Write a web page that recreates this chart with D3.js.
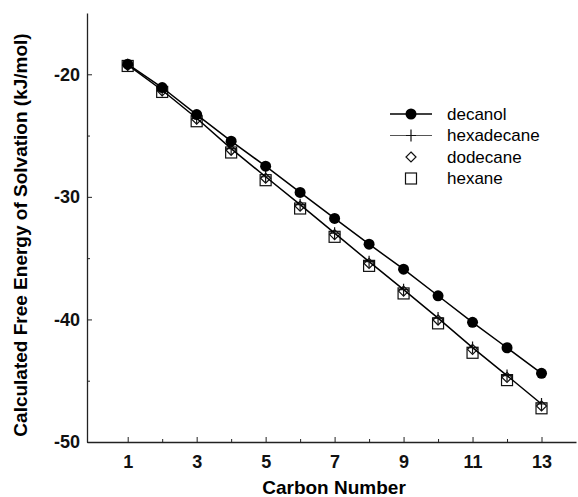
<!DOCTYPE html>
<html>
<head>
<meta charset="utf-8">
<script src="https://cdn.jsdelivr.net/npm/d3@7"></script>
<style>
    body { margin: 0; background: #fff; }
    svg { display: block; font-family: "Liberation Sans", Arial, sans-serif; }
    .axis path, .axis line { stroke: #222; }
    .axis text { font-size: 18px; font-weight: bold; fill: #111; }
</style>
</head>
<body>
<div id="content"></div>
<script>
(() => {
    var width = 578,
        height = 497;

    // data
    var carbons = [1, 2, 3, 4, 5, 6, 7, 8, 9, 10, 11, 12, 13];
    var decanol = [-19.18, -21.08, -23.29, -25.46, -27.50, -29.64, -31.76, -33.86, -35.90, -38.07, -40.24, -42.31, -44.40];
    var hexadecane = [-19.23, -21.30, -23.59, -26.07, -28.36, -30.64, -32.96, -35.29, -37.57, -39.89, -42.30, -44.58, -46.90];
    var dodecane = [-19.27, -21.35, -23.67, -26.20, -28.48, -30.76, -33.08, -35.43, -37.69, -40.05, -42.44, -44.73, -47.06];
    var hexane = [-19.32, -21.44, -23.83, -26.38, -28.64, -30.95, -33.26, -35.63, -37.88, -40.32, -42.72, -44.95, -47.25];

    var xTicks = [1, 3, 5, 7, 9, 11, 13];
    var xMinor = [2, 4, 6, 8, 10, 12];
    var yTicks = [-50, -40, -30, -20];
    var yMinor = [-45, -35, -25];

    var series = [
        { name: 'decanol', values: decanol, symbol: 'circle', line: true },
        { name: 'hexadecane', values: hexadecane, symbol: 'cross', line: true },
        { name: 'dodecane', values: dodecane, symbol: 'diamond', line: false },
        { name: 'hexane', values: hexane, symbol: 'square', line: false }
    ];

    var x = d3.scaleLinear().domain([-0.18, 14]).range([87, 576]);
    var y = d3.scaleLinear().domain([-50, -15]).range([442, 13]);

    var svg = d3.select('#content').append('svg')
        .attr('width', width)
        .attr('height', height);

    // plain hyphen for negatives, like the original
    var fmt = d => String(d);

    // axes, ticks pointing inward
    svg.append('g')
        .attr('class', 'x axis')
        .attr('transform', 'translate(0,' + y(-50) + ')')
        .call(d3.axisBottom(x).tickValues(xTicks).tickFormat(fmt).tickSizeInner(-5).tickSizeOuter(0).tickPadding(13))
        .call(g => g.select('.domain').attr('stroke-width', 1.6));

    svg.append('g')
        .attr('class', 'x axis minor')
        .attr('transform', 'translate(0,' + y(-50) + ')')
        .call(d3.axisBottom(x).tickValues(xMinor).tickSizeInner(-3).tickSizeOuter(0).tickFormat(''))
        .call(g => g.select('.domain').remove())
        .selectAll('line').attr('stroke', '#777');

    svg.append('g')
        .attr('class', 'y axis')
        .attr('transform', 'translate(' + x.range()[0] + ',0)')
        .call(d3.axisLeft(y).tickValues(yTicks).tickFormat(fmt).tickSizeInner(-5).tickSizeOuter(0).tickPadding(7))
        .call(g => g.select('.domain').attr('stroke-width', 1.3));

    svg.append('g')
        .attr('class', 'y axis minor')
        .attr('transform', 'translate(' + x.range()[0] + ',0)')
        .call(d3.axisLeft(y).tickValues(yMinor).tickSizeInner(-3).tickSizeOuter(0).tickFormat(''))
        .call(g => g.select('.domain').remove())
        .selectAll('line').attr('stroke', '#777');

    // axis titles
    svg.append('text')
        .attr('x', 334)
        .attr('y', 494)
        .attr('text-anchor', 'middle')
        .style('font-size', '19px')
        .style('font-weight', 'bold')
        .text('Carbon Number');

    svg.append('text')
        .attr('transform', 'translate(27,235) rotate(-90)')
        .attr('text-anchor', 'middle')
        .style('font-size', '19px')
        .style('font-weight', 'bold')
        .text('Calculated Free Energy of Solvation (kJ/mol)');

    var line = d3.line()
        .x((d, i) => x(carbons[i]))
        .y(d => y(d));

    function drawSymbol(g, type, cx, cy) {
        if (type === 'circle') {
            g.append('circle').attr('cx', cx).attr('cy', cy).attr('r', 5.5)
                .attr('fill', '#000');
        } else if (type === 'square') {
            g.append('rect').attr('x', cx - 5.5).attr('y', cy - 5.5)
                .attr('width', 11).attr('height', 11)
                .attr('fill', 'none').attr('stroke', '#111').attr('stroke-width', 1.2);
        } else if (type === 'diamond') {
            g.append('path')
                .attr('d', 'M' + cx + ',' + (cy - 5) + 'L' + (cx + 5) + ',' + cy + 'L' + cx + ',' + (cy + 5) + 'L' + (cx - 5) + ',' + cy + 'Z')
                .attr('fill', 'none').attr('stroke', '#111').attr('stroke-width', 1.2);
        } else if (type === 'cross') {
            g.append('path')
                .attr('d', 'M' + (cx - 5) + ',' + cy + 'H' + (cx + 5) + 'M' + cx + ',' + (cy - 6) + 'V' + (cy + 6))
                .attr('fill', 'none').attr('stroke', '#111').attr('stroke-width', 1.2);
        }
    }

    // draw hexane first so the filled markers sit on top
    series.slice().reverse().forEach(function (s) {
        var g = svg.append('g').attr('class', 'series ' + s.name);
        if (s.line) {
            g.append('path')
                .datum(s.values)
                .attr('d', line)
                .attr('fill', 'none')
                .attr('stroke', '#000')
                .attr('stroke-width', 1.5);
        }
        s.values.forEach(function (v, i) {
            drawSymbol(g, s.symbol, x(carbons[i]), y(v));
        });
    });

    // legend
    var legend = svg.append('g').attr('class', 'legend');
    series.forEach(function (s, i) {
        var ly = 114 + i * 21.5;
        var lx = 411;
        if (s.line) {
            legend.append('line')
                .attr('x1', lx - 21).attr('x2', lx + 21)
                .attr('y1', ly).attr('y2', ly)
                .attr('stroke', i === 0 ? '#000' : '#555')
                .attr('stroke-width', i === 0 ? 1.5 : 1.2);
        }
        drawSymbol(legend, s.symbol, lx, ly);
        legend.append('text')
            .attr('x', 447)
            .attr('y', ly)
            .attr('dy', '0.35em')
            .style('font-size', '17px')
            .text(s.name);
    });
})();
</script>
</body>
</html>
